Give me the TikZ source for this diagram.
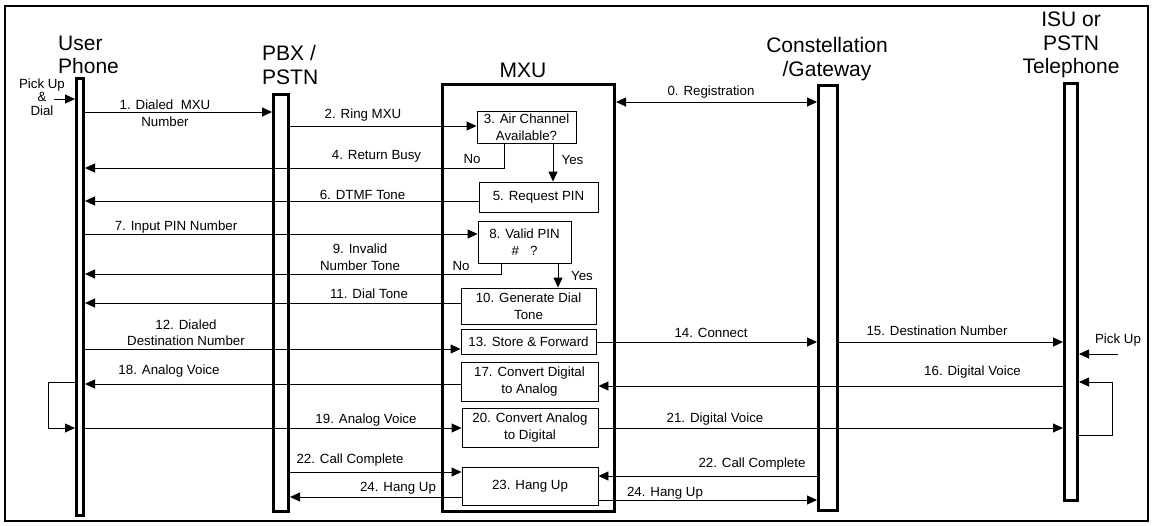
\documentclass[tikz,border=0pt]{standalone}
\usepackage{fontspec}
\setmainfont{Liberation Sans}
\usetikzlibrary{positioning,arrows.meta}
\newcommand{\lblfont}{\fontsize{13.3}{16.5}\selectfont}
\newcommand{\headfont}{\fontsize{21}{23.5}\selectfont}
\tikzset{
  >={Triangle[length=10pt,width=9pt]},
  life/.style={draw,line width=3pt,inner sep=0pt,anchor=north},
  proc/.style={draw,line width=.9pt,inner sep=0pt,align=center,font=\lblfont},
  msg/.style={->,line width=.9pt},
  lbl/.style={inner sep=0pt,align=center,font=\lblfont},
  head/.style={inner sep=0pt,font=\headfont},
}

\begin{document}
\begin{tikzpicture}[x=1pt,y=-1pt]
  \useasboundingbox (0,0) rectangle (1153,525);
  \draw[line width=2pt] (5,6) rectangle (1148,521);

  \node[head,align=left,anchor=west] (tuser) at (58,55)   {User\\Phone};
  \node[head,align=left,anchor=west] (tpbx)  at (262,65)  {PBX /\\PSTN};
  \node[head]                        (tmxu)  at (523,70.5){MXU};
  \node[head,align=center]           (tgw)   at (827,59)  {Constellation\\/Gateway};
  \node[head,align=center]           (tisu)  at (1071,45) {ISU or\\PSTN\\Telephone};

  \node[life,minimum width=7pt,minimum height=437pt]   (user) at (80,77)    {};
  \node[life,minimum width=15pt,minimum height=417pt]  (pbx)  at (281,93)   {};
  \node[life,minimum width=172pt,minimum height=427pt] (mxu)  at (528.5,83) {};
  \node[life,minimum width=19pt,minimum height=425pt]  (gw)   at (828,84)   {};
  \node[life,minimum width=13pt,minimum height=417pt]  (isu)  at (1071,82)  {};

  \node[proc,minimum width=99pt,minimum height=32pt]  (b3)  at (526.5,127)  {3. Air Channel\\Available?};
  \node[proc,minimum width=119pt,minimum height=30pt] (b5)  at (538.5,197)  {5. Request PIN};
  \node[proc,minimum width=93pt,minimum height=42pt]  (b8)  at (524.5,242)  {8. Valid PIN\\\#\ \ \ ?};
  \node[proc,minimum width=135pt,minimum height=36pt] (b10) at (528.5,306)  {10. Generate Dial\\Tone};
  \node[proc,minimum width=135pt,minimum height=25pt] (b13) at (528.5,341.5){13. Store \& Forward};
  \node[proc,minimum width=137pt,minimum height=39pt] (b17) at (529.5,381.5){17. Convert Digital\\to Analog};
  \node[proc,minimum width=136pt,minimum height=39pt] (b20) at (530,427.5)  {20. Convert Analog\\to Digital};
  \node[proc,minimum width=136pt,minimum height=38pt] (b23) at (530,486)    {23. Hang Up};

  \coordinate (m0)  at (0,102);
  \coordinate (m1)  at (0,112);
  \coordinate (m2)  at (0,126);
  \coordinate (m4)  at (504,168);
  \coordinate (y3)  at (553,0);
  \coordinate (m6)  at (0,201);
  \coordinate (m7)  at (0,234);
  \coordinate (m9)  at (501,274);
  \coordinate (y8)  at (558,0);
  \coordinate (m11) at (0,303);
  \coordinate (m12) at (0,349);
  \coordinate (m14) at (0,342);
  \coordinate (m16) at (0,386);
  \coordinate (m18) at (0,384);
  \coordinate (m19) at (0,428);
  \coordinate (m22) at (0,472);
  \coordinate (m24) at (0,497);
  \coordinate (n22) at (0,476);
  \coordinate (n24) at (0,500);
  \coordinate (pu)  at (54,99);
  \coordinate (pr)  at (1118,354);
  \coordinate (ut)  at (48,382);
  \coordinate (ub)  at (48,428);
  \coordinate (it)  at (1112,382);
  \coordinate (ib)  at (1112,435);

  \node[lbl,font=\fontsize{13.3}{13.5}\selectfont] (tpu) at (42,97) {Pick Up\\\&\\Dial};
  \draw[msg] (pu) -- (pu -| user.west);
  \node[lbl] (tpr) at (1118,340) {Pick Up};
  \draw[msg] (pr) -- (pr -| isu.east);

  \draw[msg,<->] (mxu.east |- m0) -- (gw.west |- m0);
  \node[lbl] (l0) at (711,92) {0. Registration};
  \draw[msg] (user.east |- m1) -- (pbx.west |- m1);
  \node[lbl] (l1) at (165,113) {1. Dialed\ \ MXU\\Number};
  \draw[msg] (pbx.east |- m2) -- (b3.west |- m2);
  \node[lbl] (l2) at (363,115) {2. Ring MXU};
  \draw[msg] (b3.south -| m4) |- (user.east |- m4);
  \node[lbl] (l4) at (376.5,156) {4. Return Busy};
  \node[lbl] (no3) at (472,159) {No};
  \draw[msg] (b3.south -| y3) -- (b5.north -| y3);
  \node[lbl] (yes3) at (572.5,160) {Yes};
  \draw[msg] (b5.west |- m6) -- (user.east |- m6);
  \node[lbl] (l6) at (362.5,195) {6. DTMF Tone};
  \draw[msg] (user.east |- m7) -- (b8.west |- m7);
  \node[lbl] (l7) at (176,227) {7. Input PIN Number};
  \draw[msg] (b8.south -| m9) |- (user.east |- m9);
  \node[lbl] (l9) at (360,257) {9. Invalid\\Number Tone};
  \node[lbl] (no8) at (461,266) {No};
  \draw[msg] (b8.south -| y8) -- (b10.north -| y8);
  \node[lbl] (yes8) at (582,276) {Yes};
  \draw[msg] (b10.west |- m11) -- (user.east |- m11);
  \node[lbl] (l11) at (369,294) {11. Dial Tone};
  \draw[msg] (user.east |- m12) -- (b13.west |- m12);
  \node[lbl] (l12) at (186,332.5) {12. Dialed\\Destination Number};
  \draw[msg] (b13.east |- m14) -- (gw.west |- m14);
  \node[lbl] (l14) at (711,333) {14. Connect};
  \draw[msg] (gw.east |- m14) -- (isu.west |- m14);
  \node[lbl] (l15) at (937,331) {15. Destination Number};
  \draw[msg] (isu.west |- m16) -- (b17.east |- m16);
  \node[lbl] (l16) at (972.5,372) {16. Digital Voice};
  \draw[msg] (isu.east |- ib) -- (ib) -- (it) -- (isu.east |- it);
  \draw[msg] (b17.west |- m18) -- (user.east |- m18);
  \node[lbl] (l18) at (169,371) {18. Analog Voice};
  \draw[msg] (user.west |- ut) -- (ut) -- (ub) -- (user.west |- ub);
  \draw[msg] (user.east |- m19) -- (b20.west |- m19);
  \node[lbl] (l19) at (366,420) {19. Analog Voice};
  \draw[msg] (b20.east |- m19) -- (isu.west |- m19);
  \node[lbl] (l21) at (715,419) {21. Digital Voice};
  \draw[msg] (pbx.east |- m22) -- (b23.west |- m22);
  \node[lbl] (l22) at (350,460) {22. Call Complete};
  \draw[msg] (b23.west |- m24) -- (pbx.east |- m24);
  \node[lbl] (l24) at (398,488) {24. Hang Up};
  \draw[msg] (gw.west |- n22) -- (b23.east |- n22);
  \node[lbl] (k22) at (752,464) {22. Call Complete};
  \draw[msg] (b23.east |- n24) -- (gw.west |- n24);
  \node[lbl] (k24) at (665,493) {24. Hang Up};
\end{tikzpicture}
\end{document}
